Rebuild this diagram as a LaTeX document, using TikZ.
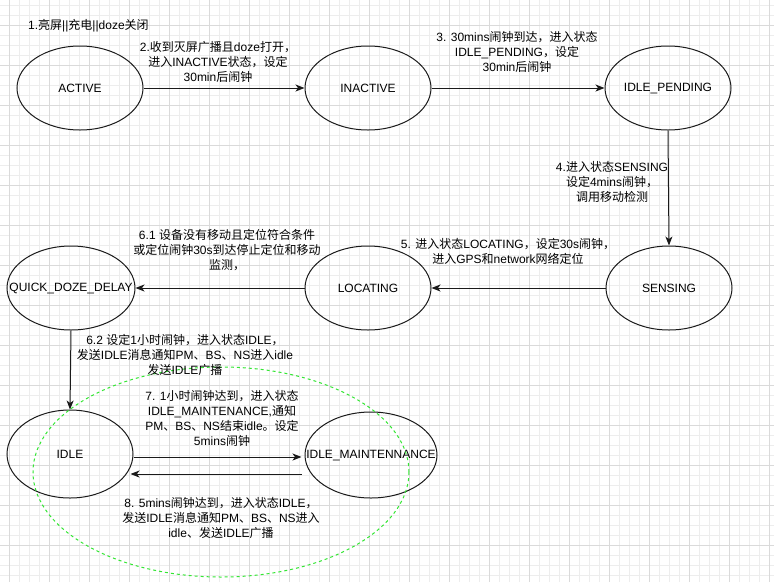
\documentclass[tikz,border=0pt]{standalone}
\usepackage{fontspec}
\setmainfont{Liberation Sans}
\newfontfamily\zhfont{Noto Sans CJK SC}
\newcommand\zh[1]{{\zhfont #1}}
\usetikzlibrary{shapes.geometric,arrows.meta,calc}
\definecolor{gridminor}{HTML}{EDEDED}
\definecolor{gridmajor}{HTML}{DADADA}
\definecolor{stroke}{HTML}{1A1A1A}
\definecolor{dashgreen}{HTML}{33E633}
\tikzset{
  state/.style={draw=stroke, line width=1pt, ellipse, minimum width=126pt, minimum height=84pt, inner sep=0pt},
  lbl/.style={font=\fontsize{12}{15}\selectfont, align=center, inner sep=0pt, text=black},
  stname/.style={font=\fontsize{12}{15}\selectfont, text=black},
  arr/.style={draw=stroke, line width=1pt, -{Stealth[length=9pt,width=7pt,inset=2.5pt]}},
}
\begin{document}
\begin{tikzpicture}[x=1pt,y=-1pt]
\useasboundingbox (0,0) rectangle (774,582);
\fill[white] (0,0) rectangle (774,582);
% grid
\foreach \x in {9,19,...,769} \draw[gridminor, line width=1pt] (\x,0) -- (\x,582);
\foreach \y in {5,15,...,575} \draw[gridminor, line width=1pt] (0,\y) -- (774,\y);
\foreach \x in {9,49,...,769} \draw[gridmajor, line width=1pt] (\x,0) -- (\x,582);
\foreach \y in {25,65,...,575} \draw[gridmajor, line width=1pt] (0,\y) -- (774,\y);

% states
\node[state, label={[stname]center:ACTIVE}] (active) at (80,88) {};
\node[state, label={[stname]center:INACTIVE}] (inactive) at (368,88) {};
\node[state, label={[stname]center:IDLE\_PENDING}] (pending) at (668,88) {};
\node[state, label={[stname]center:SENSING}] (sensing) at (669,288) {};
\node[state, label={[stname]center:LOCATING}] (locating) at (368,288) {};
\node[state, minimum width=128pt, label={[stname]center:QUICK\_DOZE\_DELAY}] (quick) at (71,288) {};
\node[state, minimum height=88pt, label={[stname]center:IDLE}] (idle) at (70,454) {};
\node[state, minimum width=132pt, minimum height=86pt, label={[stname]center:IDLE\_MAINTENNANCE}] (maint) at (371,455) {};

% green dashed group
\node[draw=dashgreen, line width=1pt, dash pattern=on 3pt off 3pt, ellipse, minimum width=376pt, minimum height=210pt, inner sep=0pt] (group) at (221,472) {};

% connectors
\draw[arr] (active.east) -- (inactive.west);
\draw[arr] (inactive.east) -- (pending.west);
\draw[arr] (pending.south) -- (sensing.north);
\draw[arr] (sensing.west) -- (locating.east);
\draw[arr] (locating.west) -- (quick.east);
\draw[arr] (quick.south) -- (idle.north);
\draw[arr] ($(idle.east)+(0,3)$) coordinate (i1) -- ($(maint.west)+(-3,2)$) coordinate (m1);
\draw[arr] ($(maint.west)+(-3,19)$) coordinate (m2) -- ($(idle.east)+(-3,20)$) coordinate (i2);

% labels
\node[lbl, anchor=west] (t1) at (28,26) {1.\zh{亮屏}||\zh{充电}||doze\zh{关闭}};
\node[lbl] (t2) at (218,62) {2.\zh{收到灭屏广播且}doze\zh{打开，}\\\zh{进入}INACTIVE\zh{状态，设定}\\30min\zh{后闹钟}};
\node[lbl] (t3) at (517,52) {3. 30mins\zh{闹钟到达，进入状态}\\IDLE\_PENDING\zh{，设定}\\30min\zh{后闹钟}};
\node[lbl] (t4) at (612,182) {4.\zh{进入状态}SENSING\\\zh{设定}4mins\zh{闹钟，}\\\zh{调用移动检测}};
\node[lbl] (t5) at (508,251) {5. \zh{进入状态}LOCATING\zh{，设定}30s\zh{闹钟，}\\\zh{进入}GPS\zh{和}network\zh{网络定位}};
\node[lbl] (t61) at (227,250) {6.1 \zh{设备没有移动且定位符合条件}\\\zh{或定位闹钟}30s\zh{到达停止定位和移动}\\\zh{监测，}};
\node[lbl] (t62) at (185,355) {6.2 \zh{设定}1\zh{小时闹钟，进入状态}IDLE\zh{，}\\\zh{发送}IDLE\zh{消息通知}PM\zh{、}BS\zh{、}NS\zh{进入}idle\\\zh{发送}IDLE\zh{广播}};
\node[lbl] (t7) at (222,418) {7. 1\zh{小时闹钟达到，进入状态}\\IDLE\_MAINTENANCE,\zh{通知}\\PM\zh{、}BS\zh{、}NS\zh{结束}idle\zh{。设定}\\5mins\zh{闹钟}};
\node[lbl] (t8) at (221,518) {8. 5mins\zh{闹钟达到，进入状态}IDLE\zh{，}\\\zh{发送}IDLE\zh{消息通知}PM\zh{、}BS\zh{、}NS\zh{进入}\\idle\zh{、发送}IDLE\zh{广播}};
\end{tikzpicture}
\end{document}
